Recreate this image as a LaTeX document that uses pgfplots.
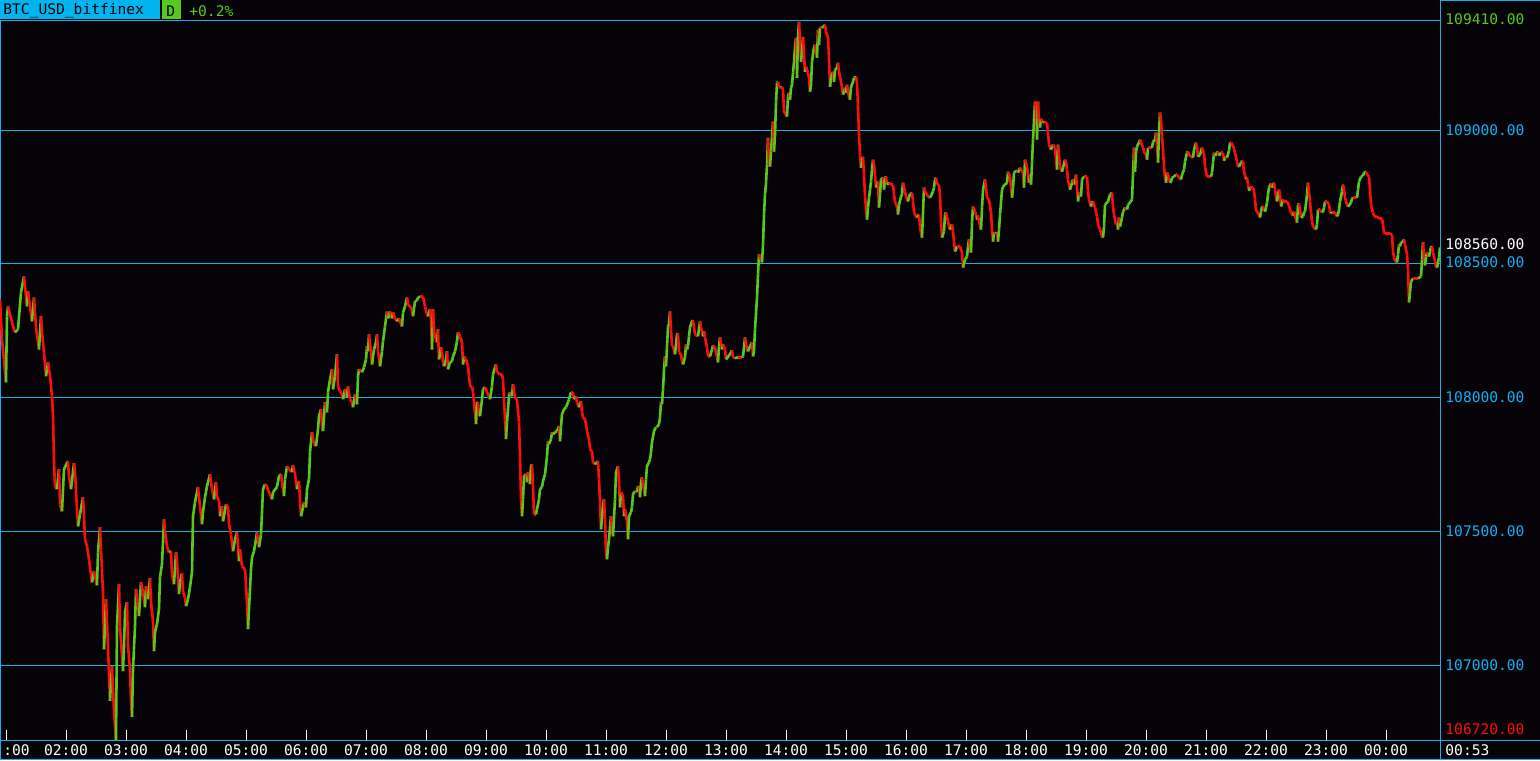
\documentclass[border=0pt]{standalone}
\usepackage{pgfplots}
\usepackage{pgfplotstable}
\pgfplotsset{compat=1.18}
\usepackage{fontspec}
\newfontfamily\pixfont{DejaVu Sans Mono}

\definecolor{bg}{RGB}{5,3,8}
\definecolor{gridc}{RGB}{16,176,240}
\definecolor{hdrc}{RGB}{0,180,240}
\definecolor{lgreen}{RGB}{86,200,30}
\definecolor{lred}{RGB}{255,12,12}

% one price per minute-ish, x = minutes since 00:54
\pgfplotstableread[row sep=\\]{
x p\\
0 108366\\ 2 108217\\ 6 108056\\ 7 108303\\ 8 108340\\ 12 108280\\ 15 108243\\ 18 108254\\ 21 108392\\ 24 108452\\
27 108340\\ 28 108396\\ 32 108284\\ 34 108373\\ 36 108262\\ 39 108179\\ 41 108303\\ 42 108243\\ 44 108168\\ 46 108079\\
48 108131\\ 50 108079\\ 52 108004\\ 53 107930\\ 54 107758\\ 55 107668\\ 57 107657\\ 59 107732\\ 60 107600\\ 62 107574\\
64 107732\\ 68 107762\\ 69 107706\\ 71 107657\\ 74 107754\\ 75 107721\\ 76 107646\\ 78 107518\\ 80 107563\\ 83 107627\\
84 107556\\ 85 107470\\ 87 107444\\ 89 107395\\ 92 107309\\ 94 107350\\ 97 107298\\ 98 107421\\ 100 107515\\ 101 107432\\
103 107272\\ 104 107059\\ 106 107246\\ 108 107071\\ 110 106866\\ 112 106996\\ 114 106825\\ 116 106720\\ 117 107145\\ 119 107302\\
120 107145\\ 123 106977\\ 124 107071\\ 125 107198\\ 127 107235\\ 128 107071\\ 130 106985\\ 131 106866\\ 132 106806\\ 133 106985\\
135 107145\\ 136 107283\\ 139 107183\\ 141 107309\\ 143 107272\\ 145 107216\\ 146 107294\\ 148 107246\\ 150 107324\\ 151 107235\\
153 107164\\ 154 107052\\ 155 107123\\ 157 107153\\ 159 107209\\ 160 107328\\ 162 107377\\ 164 107544\\ 165 107500\\ 167 107444\\
169 107421\\ 171 107425\\ 172 107339\\ 174 107302\\ 176 107421\\ 177 107388\\ 179 107265\\ 180 107309\\ 182 107343\\ 183 107272\\
185 107253\\ 186 107220\\ 188 107246\\ 190 107291\\ 192 107347\\ 193 107556\\ 195 107608\\ 198 107665\\ 200 107593\\ 202 107526\\
203 107571\\ 205 107627\\ 207 107668\\ 210 107713\\ 212 107657\\ 214 107619\\ 216 107683\\ 217 107627\\ 219 107615\\ 220 107556\\
222 107593\\ 223 107537\\ 226 107600\\ 228 107593\\ 229 107526\\ 231 107488\\ 233 107425\\ 235 107470\\ 237 107496\\ 239 107388\\
240 107432\\ 242 107369\\ 245 107358\\ 247 107235\\ 248 107134\\ 249 107209\\ 251 107358\\ 252 107403\\ 254 107425\\ 256 107470\\
257 107496\\ 259 107440\\ 261 107488\\ 262 107571\\ 263 107657\\ 265 107676\\ 267 107668\\ 268 107653\\ 270 107638\\ 272 107619\\
273 107646\\ 277 107665\\ 279 107706\\ 281 107713\\ 282 107683\\ 284 107631\\ 285 107694\\ 287 107743\\ 289 107732\\ 292 107721\\
293 107747\\ 295 107713\\ 297 107657\\ 299 107687\\ 300 107612\\ 301 107556\\ 303 107589\\ 304 107608\\ 306 107589\\ 307 107657\\
309 107694\\ 310 107795\\ 312 107870\\ 314 107825\\ 316 107818\\ 318 107881\\ 319 107930\\ 321 107956\\ 322 107892\\ 323 107874\\
325 107982\\ 327 107944\\ 328 108019\\ 330 108067\\ 332 108105\\ 333 108030\\ 335 108079\\ 337 108161\\ 338 108041\\ 340 108023\\
342 108011\\ 343 107993\\ 345 108030\\ 347 108000\\ 348 108041\\ 350 107993\\ 352 107982\\ 353 107963\\ 355 108011\\ 357 107974\\
358 108079\\ 359 108105\\ 362 108094\\ 364 108112\\ 366 108142\\ 367 108191\\ 368 108172\\ 369 108235\\ 371 108168\\ 372 108123\\
374 108179\\ 376 108206\\ 377 108235\\ 378 108172\\ 380 108116\\ 382 108172\\ 383 108209\\ 385 108265\\ 387 108321\\ 388 108295\\
390 108321\\ 392 108295\\ 393 108317\\ 395 108295\\ 397 108284\\ 399 108295\\ 402 108265\\ 403 108317\\ 405 108340\\ 407 108373\\
408 108347\\ 410 108340\\ 412 108329\\ 413 108303\\ 415 108359\\ 417 108362\\ 418 108373\\ 420 108377\\ 423 108377\\ 425 108340\\
427 108310\\ 428 108303\\ 430 108329\\ 431 108291\\ 432 108179\\ 433 108329\\ 434 108247\\ 436 108217\\ 437 108206\\ 438 108254\\
439 108142\\ 441 108187\\ 442 108172\\ 443 108131\\ 444 108116\\ 446 108142\\ 447 108172\\ 448 108105\\ 450 108131\\ 452 108135\\
453 108153\\ 455 108172\\ 457 108209\\ 458 108243\\ 460 108228\\ 462 108206\\ 463 108123\\ 464 108153\\ 466 108142\\ 468 108116\\
469 108079\\ 470 108041\\ 472 108041\\ 473 108019\\ 474 107982\\ 476 107900\\ 477 107982\\ 478 107982\\ 479 107930\\
480 107930\\ 482 107993\\ 483 108030\\ 485 108038\\ 487 108019\\ 488 108011\\ 490 107993\\ 492 108041\\ 493 108086\\ 495 108112\\
496 108123\\ 497 108094\\ 500 108086\\ 502 108086\\ 503 108067\\ 505 107918\\ 506 107844\\ 507 107907\\ 509 108004\\ 510 108019\\
512 108004\\ 513 108049\\ 514 108023\\ 515 108000\\ 517 107993\\ 519 107907\\ 520 107780\\ 521 107619\\ 522 107556\\ 523 107619\\
524 107706\\ 526 107713\\ 527 107683\\ 528 107721\\ 530 107676\\ 531 107743\\ 532 107750\\ 533 107668\\ 534 107563\\ 536 107563\\
537 107582\\ 539 107619\\ 540 107657\\ 542 107665\\ 543 107687\\ 545 107713\\ 547 107780\\ 548 107836\\ 549 107825\\ 551 107844\\
552 107870\\ 553 107862\\ 555 107870\\ 557 107874\\ 559 107892\\ 560 107836\\ 561 107892\\ 562 107937\\ 564 107956\\ 566 107963\\
568 107982\\ 569 107993\\ 571 108019\\ 573 108019\\ 574 107993\\ 576 108004\\ 577 107982\\ 579 107963\\ 581 107986\\ 582 107944\\
583 107926\\ 585 107918\\ 586 107900\\ 587 107874\\ 589 107844\\ 590 107806\\ 592 107799\\ 593 107758\\ 595 107750\\ 597 107758\\
598 107762\\ 599 107694\\ 600 107608\\ 601 107507\\ 603 107593\\ 604 107619\\ 605 107544\\ 606 107421\\ 607 107395\\ 608 107440\\
609 107470\\ 611 107556\\ 612 107507\\ 613 107481\\ 615 107619\\ 616 107721\\ 618 107743\\ 619 107687\\ 620 107589\\ 621 107646\\
623 107631\\ 624 107556\\ 625 107582\\ 627 107537\\ 628 107470\\ 629 107556\\ 631 107571\\ 632 107589\\ 633 107638\\ 635 107650\\
637 107646\\ 638 107668\\ 639 107665\\ 640 107627\\ 641 107683\\ 642 107702\\ 643 107676\\ 645 107631\\ 646 107694\\ 647 107743\\
649 107758\\ 650 107769\\ 651 107795\\ 652 107833\\ 654 107874\\ 656 107889\\ 657 107889\\ 659 107900\\ 660 107926\\ 661 107982\\
662 107974\\ 663 108030\\ 664 108105\\ 665 108153\\ 666 108116\\ 667 108191\\ 668 108265\\ 669 108273\\ 670 108321\\ 671 108254\\
672 108191\\ 673 108191\\ 675 108161\\ 677 108235\\ 678 108239\\ 679 108168\\ 681 108161\\ 682 108135\\ 683 108123\\ 685 108150\\
686 108198\\ 687 108179\\ 688 108191\\ 689 108228\\ 690 108262\\ 692 108284\\ 693 108288\\ 695 108235\\ 698 108228\\ 700 108284\\
702 108243\\ 703 108228\\ 704 108247\\ 705 108224\\ 707 108187\\ 708 108153\\ 710 108153\\ 712 108179\\ 713 108194\\ 715 108187\\
717 108150\\ 718 108131\\ 719 108191\\
720 108224\\ 722 108179\\ 723 108198\\ 725 108179\\ 726 108142\\ 730 108161\\ 732 108176\\ 733 108150\\ 735 108146\\ 738 108150\\
742 108150\\ 743 108153\\ 745 108224\\ 747 108179\\ 748 108172\\ 750 108191\\ 752 108206\\ 753 108153\\ 754 108176\\ 755 108254\\
757 108373\\ 758 108459\\ 759 108534\\ 761 108515\\ 762 108504\\ 763 108571\\ 764 108683\\ 765 108758\\ 766 108802\\ 767 108870\\
768 108970\\ 769 108870\\ 770 108862\\ 771 108918\\ 772 108974\\ 773 109030\\ 774 108918\\ 775 108981\\ 776 109101\\ 777 109175\\
778 109179\\ 779 109160\\ 781 109157\\ 782 109160\\ 783 109149\\ 784 109067\\ 786 109056\\ 787 109049\\ 788 109123\\ 789 109138\\
790 109112\\ 791 109157\\ 792 109168\\ 793 109213\\ 794 109254\\ 795 109306\\ 796 109343\\ 797 109194\\ 798 109347\\ 799 109403\\
800 109336\\ 801 109254\\ 802 109291\\ 803 109347\\ 804 109280\\ 805 109216\\ 806 109235\\ 808 109213\\ 809 109194\\ 810 109142\\
811 109168\\ 812 109254\\ 814 109310\\ 815 109317\\ 817 109269\\ 818 109373\\ 819 109317\\ 820 109381\\ 822 109381\\ 823 109384\\
825 109392\\ 826 109366\\ 827 109354\\ 828 109347\\ 829 109261\\ 830 109160\\ 831 109194\\ 833 109216\\ 834 109179\\ 835 109224\\
837 109231\\ 838 109250\\ 839 109216\\ 841 109179\\ 842 109157\\ 843 109131\\ 845 109157\\ 846 109138\\ 847 109168\\ 849 109123\\
850 109112\\ 851 109160\\ 853 109179\\ 854 109194\\ 856 109198\\ 857 109179\\ 858 109082\\ 859 108981\\ 860 108907\\ 861 108858\\
862 108881\\ 863 108899\\ 864 108832\\ 865 108750\\ 867 108664\\ 868 108709\\ 869 108746\\ 870 108776\\ 871 108806\\ 872 108851\\
873 108888\\ 874 108870\\ 875 108832\\ 876 108784\\ 878 108806\\ 879 108709\\ 880 108758\\ 881 108814\\ 883 108821\\ 884 108776\\
885 108821\\ 886 108825\\ 887 108795\\ 889 108802\\ 891 108795\\ 893 108795\\ 894 108758\\ 895 108732\\ 897 108713\\ 898 108683\\
899 108720\\ 901 108750\\ 902 108758\\ 903 108802\\ 905 108769\\ 906 108750\\ 908 108732\\ 909 108750\\ 910 108758\\ 912 108765\\
913 108732\\ 914 108691\\ 916 108676\\ 917 108672\\ 919 108683\\ 920 108635\\ 921 108616\\ 922 108597\\ 924 108784\\ 925 108769\\
927 108758\\ 928 108750\\ 930 108746\\ 933 108769\\ 934 108784\\ 935 108814\\ 936 108821\\ 937 108795\\ 939 108795\\ 940 108758\\
941 108653\\ 942 108597\\ 944 108620\\ 945 108683\\ 946 108691\\ 948 108657\\ 949 108638\\ 950 108627\\ 952 108646\\ 953 108620\\
954 108582\\ 955 108545\\ 957 108564\\ 958 108564\\
960 108564\\ 962 108541\\ 963 108485\\ 965 108515\\ 967 108526\\ 968 108564\\ 969 108590\\ 971 108541\\ 972 108653\\ 973 108713\\
975 108694\\ 976 108683\\ 977 108664\\ 978 108679\\ 979 108657\\ 981 108627\\ 982 108709\\ 983 108776\\ 985 108814\\ 986 108784\\
987 108746\\ 989 108739\\ 991 108691\\ 992 108627\\ 993 108582\\ 994 108616\\ 996 108612\\ 997 108616\\ 998 108582\\ 999 108627\\
1000 108683\\ 1002 108776\\ 1003 108787\\ 1005 108795\\ 1007 108802\\ 1008 108843\\ 1010 108825\\ 1011 108787\\ 1012 108746\\ 1013 108784\\
1014 108840\\ 1015 108843\\ 1017 108847\\ 1018 108840\\ 1020 108858\\ 1021 108851\\ 1023 108840\\ 1024 108784\\ 1025 108888\\ 1027 108862\\
1028 108832\\ 1029 108802\\ 1030 108832\\ 1031 108795\\ 1032 108877\\ 1033 108963\\ 1034 109037\\ 1035 109105\\ 1036 109075\\ 1037 108963\\
1038 109105\\ 1039 109026\\ 1040 109008\\ 1041 109041\\ 1043 109026\\ 1044 109030\\ 1047 109026\\ 1048 108989\\ 1049 108944\\ 1051 108925\\
1052 108937\\ 1053 108944\\ 1055 108933\\ 1056 108888\\ 1057 108851\\ 1058 108944\\ 1059 108907\\ 1060 108862\\ 1062 108843\\ 1063 108858\\
1065 108888\\ 1066 108881\\ 1067 108851\\ 1068 108814\\ 1070 108776\\ 1072 108802\\ 1073 108814\\ 1075 108795\\ 1076 108832\\ 1077 108787\\
1078 108732\\ 1079 108765\\ 1081 108750\\ 1082 108814\\ 1084 108825\\ 1087 108825\\ 1088 108769\\ 1089 108739\\ 1091 108713\\ 1092 108728\\
1093 108732\\ 1095 108709\\ 1097 108676\\ 1098 108646\\ 1100 108627\\ 1101 108616\\ 1102 108601\\ 1103 108597\\ 1104 108638\\ 1105 108720\\
1107 108728\\ 1108 108732\\ 1110 108758\\ 1112 108765\\ 1113 108713\\ 1114 108683\\ 1116 108646\\ 1117 108646\\ 1118 108627\\ 1119 108672\\
1120 108638\\ 1122 108672\\ 1123 108694\\ 1125 108709\\ 1127 108702\\ 1128 108720\\ 1130 108728\\ 1132 108739\\ 1133 108832\\ 1134 108933\\
1135 108843\\ 1136 108918\\ 1137 108937\\ 1139 108952\\ 1140 108963\\ 1141 108952\\ 1143 108933\\ 1144 108918\\ 1146 108907\\ 1147 108888\\
1148 108933\\ 1150 108933\\ 1152 108933\\ 1153 108955\\ 1155 108963\\ 1156 108989\\ 1157 108944\\ 1158 108877\\ 1159 108989\\ 1160 109064\\
1161 109037\\ 1162 108974\\ 1163 108925\\ 1164 108862\\ 1165 108821\\ 1166 108802\\ 1167 108840\\ 1169 108821\\ 1170 108802\\ 1171 108806\\
1172 108821\\ 1174 108825\\ 1176 108832\\ 1177 108832\\ 1179 108821\\ 1181 108814\\ 1182 108832\\ 1184 108851\\ 1185 108881\\ 1187 108914\\
1188 108918\\ 1189 108907\\ 1191 108899\\ 1193 108896\\ 1194 108925\\ 1196 108952\\ 1197 108933\\ 1198 108899\\
1200 108907\\ 1202 108933\\ 1203 108918\\ 1204 108914\\ 1205 108862\\ 1207 108825\\ 1208 108825\\ 1211 108825\\ 1212 108840\\ 1213 108877\\
1214 108914\\ 1215 108903\\ 1217 108914\\ 1218 108918\\ 1219 108903\\ 1221 108914\\ 1223 108914\\ 1224 108884\\ 1225 108896\\ 1227 108896\\
1229 108922\\ 1230 108952\\ 1231 108952\\ 1233 108940\\ 1234 108929\\ 1235 108914\\ 1237 108881\\ 1238 108862\\ 1239 108862\\ 1241 108877\\
1242 108884\\ 1243 108881\\ 1244 108843\\ 1246 108814\\ 1247 108821\\ 1248 108795\\ 1249 108772\\ 1250 108784\\ 1251 108784\\ 1253 108784\\
1254 108772\\ 1255 108739\\ 1256 108701\\ 1257 108694\\ 1259 108683\\ 1260 108672\\ 1261 108694\\ 1262 108713\\ 1263 108713\\ 1265 108694\\
1266 108709\\ 1267 108728\\ 1268 108758\\ 1269 108784\\ 1271 108799\\ 1272 108784\\ 1273 108791\\ 1274 108802\\ 1275 108776\\ 1276 108750\\
1277 108732\\ 1278 108758\\ 1279 108776\\ 1280 108758\\ 1281 108713\\ 1283 108739\\ 1284 108732\\ 1285 108732\\ 1287 108732\\ 1289 108717\\
1290 108701\\ 1291 108691\\ 1293 108679\\ 1294 108694\\ 1295 108683\\ 1296 108664\\ 1297 108653\\ 1298 108720\\ 1299 108724\\ 1300 108701\\
1301 108672\\ 1303 108676\\ 1304 108691\\ 1305 108694\\ 1307 108758\\ 1308 108802\\ 1309 108769\\ 1310 108732\\ 1311 108691\\ 1312 108657\\
1313 108638\\ 1314 108635\\ 1316 108627\\ 1317 108646\\ 1318 108701\\ 1320 108701\\ 1322 108691\\ 1323 108694\\ 1324 108709\\ 1325 108732\\
1327 108732\\ 1329 108720\\ 1330 108694\\ 1331 108687\\ 1332 108691\\ 1333 108691\\ 1335 108691\\ 1337 108676\\ 1338 108683\\ 1339 108701\\
1340 108732\\ 1342 108769\\ 1343 108795\\ 1344 108776\\ 1345 108746\\ 1347 108720\\ 1348 108713\\ 1349 108717\\ 1351 108728\\ 1352 108743\\
1353 108746\\ 1357 108746\\ 1358 108776\\ 1359 108806\\ 1361 108825\\ 1363 108828\\ 1364 108840\\ 1366 108843\\ 1367 108832\\ 1369 108825\\
1370 108776\\ 1371 108720\\ 1372 108701\\ 1373 108691\\ 1374 108676\\ 1375 108676\\ 1377 108676\\ 1379 108668\\ 1381 108668\\ 1382 108668\\
1383 108646\\ 1384 108616\\ 1385 108612\\ 1387 108612\\ 1390 108612\\ 1392 108608\\ 1393 108545\\ 1394 108523\\ 1395 108511\\ 1397 108504\\
1398 108534\\ 1399 108571\\ 1400 108564\\ 1401 108579\\ 1403 108582\\ 1404 108590\\ 1405 108571\\ 1407 108534\\ 1408 108478\\ 1409 108355\\
1410 108392\\ 1411 108433\\ 1413 108444\\ 1415 108444\\ 1418 108444\\ 1421 108452\\ 1422 108515\\ 1423 108579\\ 1424 108526\\ 1425 108493\\
1426 108526\\ 1427 108541\\ 1429 108526\\ 1430 108545\\ 1431 108560\\ 1432 108564\\ 1433 108541\\ 1435 108508\\ 1436 108489\\ 1437 108485\\
1439 108523\\ 1440 108560\\
}\pricedata

% c = 1 when the next price is higher (green), else 0 (red)
\pgfplotstablecreatecol[
  create col/assign/.code={%
    \getthisrow{p}\thisp
    \getnextrow{p}\nextp
    \def\entry{0}%
    \ifnum0\nextp>\thisp\relax\def\entry{1}\fi
    \pgfkeyslet{/pgfplots/table/create col/next content}\entry
  }]{c}\pricedata

\tikzset{lab/.style={anchor=west, inner sep=0pt, font=\pixfont\fontsize{7.3}{8}\selectfont}}

\begin{document}
\begin{tikzpicture}
\useasboundingbox (0pt,-10pt) rectangle (770pt,370pt);
\fill[bg] (0pt,-10pt) rectangle (770pt,370pt);

% grid and frame, 1px lines on pixel rows of the reference
\begin{scope}[shift={(0pt,370pt)}, x=0.5pt, y=-0.5pt, gridc, line width=0.5pt]
  \foreach \yy in {130.5,263.5,397.5,531.5,665.5}
    \draw (0,\yy) -- (1440,\yy);
  \draw (0,20.5) -- (1440,20.5);
  \draw (1440,0.5) -- (1540,0.5);
  \draw (0,740.5) -- (1540,740.5);
  \draw (0,759.5) -- (1540,759.5);
  \draw (0.5,20) -- (0.5,760);
  \draw (1440.5,0) -- (1440.5,760);
\end{scope}

\begin{axis}[
    at={(0pt,0pt)}, anchor=south west,
    width=720pt, height=360pt, scale only axis,
    xmin=0, xmax=1440, ymin=106720, ymax=109410,
    axis line style={draw=none},
    ytick=\empty,
    xtick={6,66,...,1386}, xticklabels={},
    xtick pos=bottom, tick align=inside, major tick length=5pt,
    xtick style={white, line width=0.5pt},
  ]
  \addplot[mesh, shader=flat corner, line width=1.3pt,
    point meta=\thisrow{c}, point meta min=0, point meta max=1,
    colormap={updown}{color=(lred) color=(lgreen)}]
    table[x=x, y=p] {\pricedata};
\end{axis}

% header and labels in reference pixel units
\begin{scope}[shift={(0pt,370pt)}, x=0.5pt, y=-0.5pt]
  \fill[hdrc] (0,0) rectangle (160,19);
  \fill[lgreen] (162,0) rectangle (181,19);
  \node[lab, black] at (3,11) {BTC\_USD\_bitfinex};
  \node[lab, black] at (166,11) {D};
  \node[lab, lgreen] at (189,11) {+0.2\%};

  \node[lab, lgreen] at (1445,19) {109410.00};
  \node[lab, gridc] at (1445,130) {109000.00};
  \node[lab, white] at (1445,244) {108560.00};
  \node[lab, gridc] at (1445,262) {108500.00};
  \node[lab, gridc] at (1445,397) {108000.00};
  \node[lab, gridc] at (1445,531) {107500.00};
  \node[lab, gridc] at (1445,665) {107000.00};
  \node[lab, lred] at (1445,729) {106720.00};
  \node[lab, white] at (1445,750) {00:53};

  \node[lab, white] at (3,750) {:00};
  \foreach \xx/\tt in {66/02:00,126/03:00,186/04:00,246/05:00,306/06:00,366/07:00,
      426/08:00,486/09:00,546/10:00,606/11:00,666/12:00,726/13:00,786/14:00,
      846/15:00,906/16:00,966/17:00,1026/18:00,1086/19:00,1146/20:00,
      1206/21:00,1266/22:00,1326/23:00,1386/00:00}
    \node[lab, anchor=center, white] at (\xx,750) {\tt};
\end{scope}
\end{tikzpicture}
\end{document}
